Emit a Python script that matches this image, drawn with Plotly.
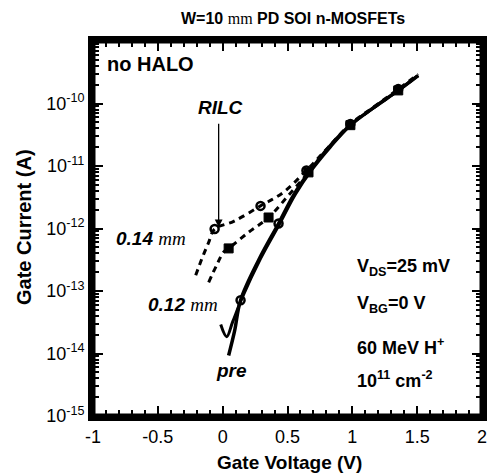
import plotly.graph_objects as go

# ---- data (gate voltage V, gate current A) ----
pre_a_v = [0.046, 0.092, 0.138, 0.277, 0.431, 0.546, 0.677, 0.815, 0.985, 1.162, 1.354, 1.508]
pre_a_i = [9.3e-15, 2.3e-14, 7.1e-14, 3.1e-13, 1.2e-12, 3.4e-12, 8.5e-12, 1.95e-11, 4.5e-11, 8.5e-11, 1.62e-10, 2.8e-10]
pre_b_v = [-0.015, 0.031, 0.077, 0.154, 0.292, 0.446, 0.560, 0.690, 0.830, 0.990, 1.170, 1.360, 1.500]
pre_b_i = [2.9e-14, 1.86e-14, 3.2e-14, 8.1e-14, 3.3e-13, 1.26e-12, 3.5e-12, 8.8e-12, 2.0e-11, 4.6e-11, 8.7e-11, 1.65e-10, 2.75e-10]
p14_v = [-0.208, -0.160, -0.108, -0.062, 0.085, 0.292, 0.469, 0.646, 0.815, 0.985, 1.162, 1.354, 1.508]
p14_i = [1.78e-13, 3.3e-13, 6.0e-13, 9.8e-13, 1.3e-12, 2.3e-12, 3.8e-12, 8.5e-12, 2.0e-11, 4.7e-11, 8.7e-11, 1.7e-10, 2.95e-10]
p12_v = [-0.108, -0.046, 0.008, 0.046, 0.200, 0.354, 0.508, 0.662, 0.815, 0.985, 1.162, 1.354, 1.508]
p12_i = [1.38e-13, 2.6e-13, 4.2e-13, 4.8e-13, 8.7e-13, 1.5e-12, 3.4e-12, 7.9e-12, 1.95e-11, 4.5e-11, 8.5e-11, 1.62e-10, 2.8e-10]
m14_v = [-0.062, 0.292, 0.646, 0.985, 1.354]
m14_i = [9.8e-13, 2.3e-12, 8.5e-12, 4.7e-11, 1.7e-10]
m12_v = [0.046, 0.354, 0.662, 0.985, 1.354]
m12_i = [4.8e-13, 1.5e-12, 7.9e-12, 4.5e-11, 1.62e-10]
mpre_v = [0.138, 0.431]
mpre_i = [7.1e-14, 1.2e-12]

x_ticks = [-1, -0.5, 0, 0.5, 1, 1.5, 2]
x_labels = ["-1", "-0.5", "0", "0.5", "1", "1.5", "2"]
y_ticks = [1e-15, 1e-14, 1e-13, 1e-12, 1e-11, 1e-10]
y_labels = ["10<sup>-15</sup>", "10<sup>-14</sup>", "10<sup>-13</sup>", "10<sup>-12</sup>",
            "10<sup>-11</sup>", "10<sup>-10</sup>"]

MU = '<span style="font-family:Liberation Serif;font-weight:normal">mm</span>'
FONT = "Liberation Sans, Arial, sans-serif"

L, R, T, B = 93, 8, 41, 59
PW, PH = 490 - L - R, 475 - T - B

fig = go.Figure()
fig.add_trace(go.Scatter(x=pre_a_v, y=pre_a_i, mode="lines", line=dict(color="black", width=3.5, shape="spline")))
fig.add_trace(go.Scatter(x=pre_b_v, y=pre_b_i, mode="lines", line=dict(color="black", width=3, shape="spline")))
fig.add_trace(go.Scatter(x=p14_v, y=p14_i, mode="lines", line=dict(color="black", width=3, dash="6px,5px", shape="spline")))
fig.add_trace(go.Scatter(x=p12_v, y=p12_i, mode="lines", line=dict(color="black", width=3, dash="6px,5px", shape="spline")))
fig.add_trace(go.Scatter(x=m14_v, y=m14_i, mode="markers",
                         marker=dict(symbol="circle-open", size=8, color="black", line=dict(width=2.5, color="black"))))
fig.add_trace(go.Scatter(x=mpre_v, y=mpre_i, mode="markers",
                         marker=dict(symbol="circle-open", size=8, color="black", line=dict(width=2.5, color="black"))))
fig.add_trace(go.Scatter(x=m12_v, y=m12_i, mode="markers",
                         marker=dict(symbol="square", size=9, color="black", line=dict(width=1, color="black"))))

ann = []
def txt(x, y, t, size=19, xanchor="left", italic=False):
    s = f"<b>{'<i>' + t + '</i>' if italic else t}</b>"
    ann.append(dict(x=x, y=y, xref="x", yref="y", text=s, showarrow=False, xanchor=xanchor,
                    yanchor="middle", font=dict(size=size, color="black", family=FONT)))

txt(-0.905, -9.37, "no HALO", size=20)
txt(-0.015, -10.07, "RILC", size=19, xanchor="center", italic=True)
txt(-0.556, -12.16, "0.14 " + MU, size=19, xanchor="center", italic=True)
txt(-0.305, -13.21, "0.12 " + MU, size=19, xanchor="center", italic=True)
txt(0.07, -14.27, "pre", size=19, xanchor="center", italic=True)
txt(1.019, -12.62, "V<sub>DS</sub>=25 mV", size=18)
txt(1.019, -13.22, "V<sub>BG</sub>=0 V", size=18)
txt(1.019, -13.88, "60 MeV H<sup>+</sup>", size=18)
txt(1.019, -14.42, "10<sup>11</sup> cm<sup>-2</sup>", size=18)
ann.append(dict(x=-0.031, y=-11.98, ax=-0.031, ay=-10.30, xref="x", yref="y", axref="x", ayref="y",
                showarrow=True, arrowhead=2, arrowsize=1.2, arrowwidth=1.3, arrowcolor="black", text=""))
ann.append(dict(xref="paper", yref="paper", x=(293 - L) / PW, y=1 + (T - 18) / PH, yanchor="middle",
                showarrow=False, text="<b>W=10 " + MU + " PD SOI n-MOSFETs</b>",
                font=dict(size=16, color="black", family=FONT)))
ann.append(dict(xref="paper", yref="paper", x=(289 - L) / PW, y=-(462 - (T + PH)) / PH, yanchor="middle",
                showarrow=False, text="<b>Gate Voltage (V)</b>", font=dict(size=19, color="black", family=FONT)))
ann.append(dict(xref="paper", yref="paper", x=-(L - 24) / PW, y=1 - (227 - T) / PH, yanchor="middle",
                xanchor="center", textangle=-90,
                showarrow=False, text="<b>Gate Current (A)</b>", font=dict(size=20, color="black", family=FONT)))

axis_common = dict(showgrid=False, zeroline=False, automargin=False,
                   showline=True, linewidth=5, linecolor="black", mirror="ticks",
                   ticks="inside", ticklen=10, tickwidth=1.5, tickcolor="black",
                   tickfont=dict(size=18, family=FONT))

fig.update_layout(
    width=490, height=475, showlegend=False,
    margin=dict(l=L, r=R, t=T, b=B),
    paper_bgcolor="white", plot_bgcolor="white",
    font=dict(family=FONT, color="black"),
    annotations=ann,
    xaxis=dict(range=[-1, 2], tickvals=x_ticks, ticktext=x_labels,
               minor=dict(ticks="inside", dtick=0.1, ticklen=6, tickwidth=2, tickcolor="black", showgrid=False),
               **axis_common),
    yaxis=dict(type="log", range=[-15, -9], tickvals=y_ticks, ticktext=y_labels,
               minor=dict(ticks="inside", dtick="D1", ticklen=6, tickwidth=1.5, tickcolor="black", showgrid=False),
               **axis_common),
    shapes=[dict(type="rect", xref="paper", yref="paper", x0=0, y0=0, x1=1, y1=1,
                 line=dict(color="black", width=5), layer="above")],
)

fig.write_html("out.html", config={"displayModeBar": False},
               post_script="document.body.style.margin='0';document.body.style.overflow='hidden';")
